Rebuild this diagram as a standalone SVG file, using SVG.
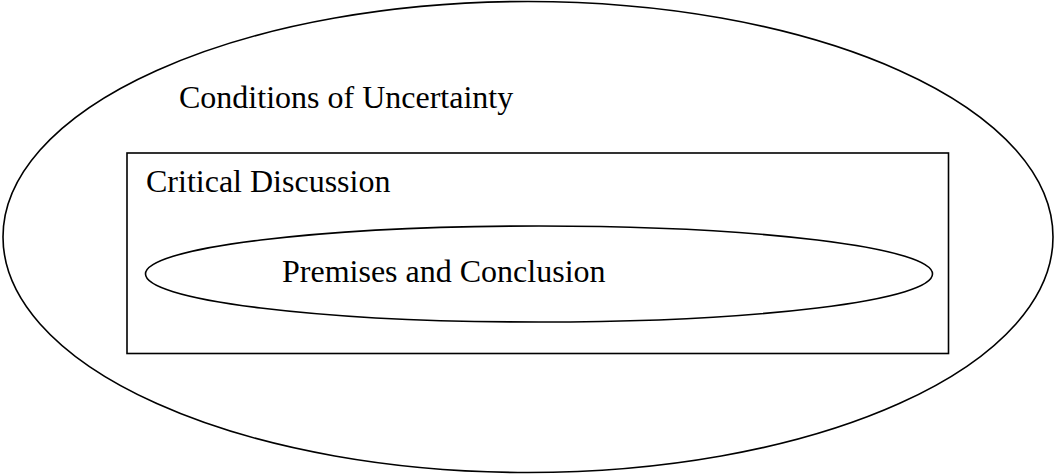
<svg xmlns="http://www.w3.org/2000/svg" width="1057" height="474" viewBox="0 0 1057 474">
<style>
.shape{fill:none;stroke:#000;stroke-width:1.6}
.lbl{font-family:"Liberation Serif","Times New Roman",serif;font-size:32px;fill:#000}
</style>
<rect width="1057" height="474" fill="#fff"/>
<g id="conditions">
<ellipse class="shape" cx="528" cy="237" rx="525" ry="235.5"/>
<text class="lbl" x="179" y="108">Conditions of Uncertainty</text>
</g>
<g id="critical-discussion">
<rect class="shape" x="127" y="153" width="821.5" height="200.5"/>
<text class="lbl" x="146" y="192">Critical Discussion</text>
</g>
<g id="premises">
<ellipse class="shape" cx="539" cy="274" rx="393.5" ry="48"/>
<text class="lbl" x="282" y="282">Premises and Conclusion</text>
</g>
<g id="connectors"></g>
</svg>
